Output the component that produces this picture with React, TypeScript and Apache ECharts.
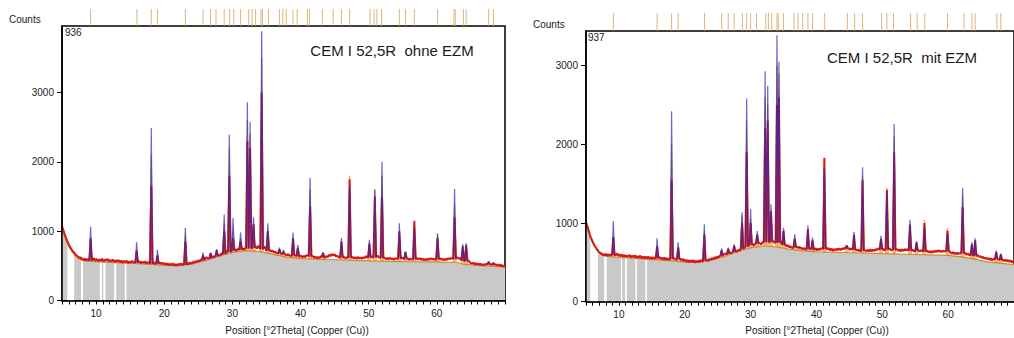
import React, { useEffect, useRef } from 'react';
import * as echarts from 'echarts';

type Pt = [number, number];
// [position °2θ, foot, observed top, calculated top, phase top]
type Peak = [number, number, number, number, number];

const xLabelValues = [10, 20, 30, 40, 50, 60];
const yLabelValues = [0, 1000, 2000, 3000];

// ---------- Sample 936 (ohne EZM) ----------
const bgL: Pt[] = [[5,1060],[5.3,960],[5.6,870],[6,780],[6.5,700],[7,640],[7.5,600],[8,580],[9,568],[10,560],[12,550],[14,540],[16,530],[18,520],[20,505],[22,500],[24,525],[26,575],[28,640],[30,695],[32,720],[34,705],[36,665],[38,625],[40,605],[42,595],[45,588],[48,578],[50,572],[55,562],[60,556],[63,548],[64,520],[66,505],[70,480]];
const obsL: Pt[] = [[5,1075],[5.15,1030],[5.3,985],[5.45,940],[5.6,900],[5.75,860],[5.9,830],[6.05,795],[6.2,770],[6.35,745],[6.5,725],[6.65,700],[6.8,690],[6.95,665],[7.1,655],[7.25,640],[7.4,625],[7.55,615],[7.7,625],[7.85,595],[8.0,610],[8.2,580],[8.4,605],[8.6,575],[8.8,600],[9.5,585],[9.7,610],[9.9,575],[10.1,600],[10.3,565],[10.5,595],[10.7,570],[10.9,605],[11.1,560],[11.3,590],[11.5,575],[11.7,600],[11.9,560],[12.1,585],[12.3,565],[12.5,590],[12.7,555],[12.9,580],[13.1,560],[13.3,585],[13.5,550],[13.7,575],[13.9,545],[14.1,570],[14.3,550],[14.5,575],[14.7,540],[14.9,565],[15.1,545],[15.3,570],[15.5,550],[16.4,565],[16.6,535],[16.8,560],[17.0,540],[17.2,565],[17.4,530],[17.6,555],[17.8,540],[18.4,560],[18.6,530],[18.8,550],[19.3,555],[19.5,525],[19.7,545],[19.9,520],[20.1,540],[20.3,510],[20.5,535],[20.7,505],[20.9,530],[21.1,510],[21.3,535],[21.5,500],[21.7,525],[21.9,505],[22.1,530],[22.3,510],[22.5,535],[22.7,515],[23.4,545],[23.6,520],[23.8,550],[24.0,530],[24.2,560],[24.4,540],[24.6,570],[24.8,555],[25.0,580],[25.2,565],[25.4,595],[26.0,600],[26.2,625],[26.4,605],[27.1,640],[27.3,625],[28.0,660],[28.2,645],[28.4,680],[29.1,690],[29.3,720],[30.4,740],[30.6,715],[30.8,745],[31.5,750],[31.7,730],[31.9,760],[33.4,780],[33.6,750],[33.8,790],[34.7,780],[34.9,740],[35.5,730],[35.7,705],[35.9,720],[36.1,690],[36.3,705],[36.5,680],[37.1,690],[37.8,665],[38.0,650],[38.2,670],[38.4,645],[39.2,650],[39.9,630],[40.1,650],[40.3,620],[40.5,645],[40.7,625],[40.9,655],[41.8,640],[42.0,610],[42.2,635],[42.4,605],[42.6,630],[42.8,610],[43.0,640],[43.6,615],[43.8,640],[44.0,625],[44.2,660],[44.4,640],[44.6,670],[44.8,650],[45.0,665],[45.2,635],[45.4,650],[45.6,620],[46.4,630],[46.6,605],[46.8,625],[47.6,630],[47.8,605],[48.0,625],[48.2,600],[48.4,630],[48.6,605],[48.8,620],[49.0,600],[49.2,625],[49.4,610],[49.6,640],[49.8,620],[50.4,640],[50.6,620],[51.3,650],[51.5,620],[52.3,620],[52.5,595],[52.7,615],[52.9,590],[53.1,620],[53.3,595],[53.5,610],[53.7,585],[53.9,610],[54.1,600],[54.9,620],[55.1,600],[55.7,610],[55.9,585],[56.1,605],[56.3,590],[57.1,615],[57.3,590],[57.5,610],[57.7,585],[57.9,605],[58.1,580],[58.3,600],[58.5,578],[58.7,605],[58.9,585],[59.1,610],[59.3,590],[59.5,605],[59.7,585],[60.5,610],[60.7,585],[60.9,600],[61.1,580],[61.3,605],[61.5,585],[61.7,610],[61.9,595],[62.1,615],[63.0,625],[63.2,600],[63.4,615],[64.7,570],[64.9,545],[65.1,530],[65.3,545],[65.5,520],[65.7,540],[65.9,515],[66.1,535],[66.3,510],[66.5,530],[66.7,505],[66.9,525],[67.1,510],[67.3,530],[67.9,525],[68.7,520],[68.9,500],[69.1,520],[69.3,495],[69.5,515],[69.7,490],[69.9,505],[70,495]];
const peaksL: Peak[] = [
  [9.2,575,900,1065,850],[15.95,545,720,840,700],[18.1,530,1650,2490,2100],[19.0,530,650,730,640],
  [23.1,515,850,1045,950],[25.7,580,650,690,620],[26.8,610,680,690,650],[27.7,640,720,740,700],
  [28.8,670,1000,1240,1100],[29.55,700,1800,2390,2200],[30.1,720,900,1190,1000],[31.2,735,850,980,900],
  [32.2,750,2300,2860,2600],[32.6,750,2200,2575,2400],[33.1,760,1100,1200,1000],[34.3,740,3000,3885,3500],
  [35.2,715,1000,1115,950],[36.9,680,740,764,720],[37.5,670,700,730,680],[38.9,645,900,980,850],
  [39.6,640,760,800,740],[41.4,640,1350,1766,1600],[43.3,625,690,690,650],[46.0,620,850,900,820],
  [47.2,620,1750,1650,1800],[50.1,620,820,875,800],[50.9,625,1500,1600,1600],[51.95,615,1500,2000,1800],
  [54.5,605,1000,1115,1000],[55.4,600,700,705,680],[56.7,595,1150,1050,1100],[60.1,595,900,971,950],
  [62.6,600,1200,1607,1400],[63.8,575,780,814,760],[64.3,570,800,830,780],[67.6,520,560,560,540],[68.3,515,545,540,520],
];
const refL = [9.2,16.0,18.1,19.0,23.1,25.7,26.8,27.6,28.8,29.6,30.2,31.2,32.4,32.9,33.4,34.2,34.4,35.3,36.9,37.4,37.9,38.9,39.5,41.0,41.3,43.2,44.8,46.0,47.2,50.2,50.8,51.2,51.9,54.5,55.4,56.7,60.1,62.5,62.7,63.9,64.3,67.6,68.3];
const gapsL: Pt[] = [[5.8,6.8],[7.78,8.08],[10.55,10.85],[11.05,11.38],[12.66,12.95],[14.22,14.46]];

// ---------- Sample 937 (mit EZM) ----------
const bgR: Pt[] = [[5,1010],[5.3,900],[5.6,820],[6,750],[6.5,680],[7,625],[7.5,595],[8,578],[10,562],[12,552],[14,542],[16,532],[18,518],[20,503],[22,500],[24,528],[26,575],[28,635],[30,685],[32,708],[34,695],[36,665],[38,645],[40,632],[45,622],[50,610],[55,600],[60,588],[62,570],[64,540],[66,505],[70,470]];
const obsR: Pt[] = [[5,1020],[5.15,975],[5.3,935],[5.45,890],[5.6,850],[5.75,815],[5.9,785],[6.05,755],[6.2,730],[6.35,705],[6.5,690],[6.65,665],[6.8,655],[6.95,630],[7.1,625],[7.25,605],[7.4,615],[7.55,590],[7.7,605],[7.85,585],[8.0,610],[8.2,580],[8.4,605],[8.6,585],[8.8,600],[9.45,590],[9.65,615],[9.85,580],[10.05,605],[10.25,575],[10.45,600],[10.65,570],[10.85,595],[11.05,565],[11.25,590],[11.45,570],[11.65,595],[11.85,560],[12.05,585],[12.25,565],[12.45,590],[12.65,555],[12.85,580],[13.05,560],[13.25,585],[13.45,550],[13.65,575],[13.85,548],[14.05,572],[14.25,550],[14.45,575],[14.65,545],[14.85,568],[15.05,545],[15.25,565],[15.45,550],[16.2,565],[16.4,540],[16.6,560],[16.8,535],[17.0,560],[17.2,530],[17.4,555],[17.6,535],[18.4,555],[18.6,530],[18.8,545],[19.3,550],[19.5,520],[19.7,545],[19.9,515],[20.1,535],[20.3,505],[20.5,530],[20.7,500],[20.9,525],[21.1,505],[21.3,530],[21.5,495],[21.7,520],[21.9,500],[22.1,525],[22.3,505],[22.5,530],[22.7,510],[23.3,535],[23.5,515],[23.7,545],[23.9,525],[24.1,555],[24.3,535],[24.5,565],[24.7,545],[24.9,575],[25.1,560],[25.3,585],[25.9,595],[26.1,615],[26.3,600],[26.9,630],[27.1,615],[27.8,650],[28.0,635],[28.2,665],[28.4,650],[29.1,690],[29.7,720],[30.3,735],[30.5,710],[30.7,740],[31.4,745],[31.6,725],[31.8,755],[33.4,775],[33.6,750],[34.6,770],[34.8,735],[35.3,725],[35.5,700],[35.7,720],[35.9,690],[36.1,705],[36.3,680],[37.0,700],[37.7,685],[37.9,665],[38.1,685],[38.3,660],[39.0,675],[39.7,660],[39.9,680],[40.1,650],[40.3,675],[40.5,655],[40.7,680],[41.5,690],[41.7,665],[41.9,680],[42.1,650],[42.3,675],[42.5,645],[42.7,670],[42.9,650],[43.1,675],[43.3,655],[43.5,680],[43.7,655],[43.9,680],[44.1,665],[44.3,690],[44.9,680],[45.1,660],[45.3,675],[46.0,665],[46.2,645],[46.4,665],[46.6,640],[47.4,655],[47.6,635],[47.8,660],[48.0,640],[48.2,665],[48.4,640],[48.6,660],[48.8,645],[49.0,670],[49.2,655],[49.4,680],[50.1,675],[50.3,650],[51.1,680],[51.3,655],[52.2,670],[52.4,645],[52.6,665],[52.8,640],[53.0,665],[53.2,645],[53.4,670],[53.6,650],[53.8,668],[54.6,660],[54.8,640],[55.5,655],[55.7,635],[55.9,655],[56.1,640],[56.8,650],[57.0,625],[57.2,645],[57.4,620],[57.6,645],[57.8,625],[58.0,650],[58.2,630],[58.4,655],[58.6,635],[58.8,650],[59.0,630],[59.2,650],[59.4,640],[60.3,635],[60.5,610],[60.7,630],[60.9,605],[61.1,625],[61.3,600],[61.5,625],[61.7,605],[61.9,620],[62.6,620],[62.8,595],[63.0,615],[63.2,590],[64.5,590],[64.7,570],[64.9,580],[65.1,555],[65.3,570],[65.5,545],[65.7,560],[65.9,540],[66.1,555],[66.3,530],[66.5,550],[66.7,525],[66.9,545],[67.6,545],[67.8,525],[68.3,535],[68.5,515],[68.7,535],[68.9,510],[69.1,530],[69.3,505],[69.5,525],[69.7,500],[69.9,515],[70,505]];
const peaksR: Peak[] = [
  [9.15,590,820,1025,800],[15.8,555,700,805,680],[18.0,545,1550,2420,2000],[19.0,540,690,754,680],
  [22.97,520,850,983,900],[25.6,585,650,678,630],[26.6,610,670,686,650],[27.5,635,710,728,700],
  [28.7,670,1000,1135,1100],[29.4,700,1900,2583,2300],[30.0,720,1000,1178,1050],[31.0,740,850,898,850],
  [32.2,755,2200,2930,2600],[32.6,755,2300,2744,2500],[33.1,760,1150,1237,1100],[34.0,755,2500,3387,3000],
  [34.3,750,2600,3049,2900],[35.0,720,900,940,880],[36.7,690,800,856,780],[37.4,685,690,700,680],
  [38.7,670,920,967,880],[39.4,665,780,815,760],[41.2,670,1829,1700,1780],[44.6,675,715,700,680],
  [45.7,660,850,885,820],[47.0,650,1550,1707,1600],[49.8,665,800,839,790],[50.7,665,1420,1400,1449],
  [51.8,660,1900,2257,2100],[54.2,650,980,1040,960],[55.2,645,750,771,740],[56.4,640,1000,950,1040],
  [59.9,640,900,870,940],[62.2,615,1200,1449,1350],[63.6,590,730,754,720],[64.1,585,780,805,760],
  [67.3,540,630,648,600],[68.0,530,600,610,580],
];
const refR = [9.15,15.8,18.0,19.0,23.0,25.6,26.6,27.5,28.75,29.4,30.0,30.9,32.3,32.7,33.2,34.0,34.2,35.0,36.6,37.2,37.9,38.7,39.4,41.25,44.7,45.8,47.0,49.9,50.7,51.7,54.3,55.3,56.45,59.9,62.4,63.6,64.1,67.4,68.0];
const gapsR: Pt[] = [[5.65,6.8],[7.75,8.15],[10.3,10.5],[10.95,11.22],[12.5,12.72],[14.02,14.26]];

const FONT = '"Liberation Sans", Arial, sans-serif';
const HW = 0.18;
const HW_PHASE = 0.3;

function mergeLine(base: Pt[], peaks: Peak[], k: number) {
  const pts: number[][] = base
    .filter(([x]) => !peaks.some((p) => Math.abs(p[0] - x) < HW + 0.04))
    .map((p) => [p[0], p[1]]);
  peaks.forEach((p) => {
    pts.push([p[0] - HW, p[1]], [p[0], p[k]], [p[0] + HW, p[1]]);
  });
  pts.sort((a, b) => a[0] - b[0]);
  return pts;
}

// isolated peak profiles (null-separated) for column k of the peak table
function peakSegments(peaks: Peak[], k: number, hw: number) {
  const out: (number | null)[][] = [];
  peaks.forEach((p) => {
    out.push([p[0] - hw, p[1]], [p[0], p[k]], [p[0] + hw, p[1]], [p[0] + hw, null]);
  });
  return out;
}

function panelSeries(g: number, bg: Pt[], obs: Pt[], peaks: Peak[], ref: number[], gaps: Pt[], stripH: number) {
  const main = g * 2;
  const strip = g * 2 + 1;
  return [
    {
      type: 'line', xAxisIndex: main, yAxisIndex: main, z: 1, symbol: 'none', silent: true,
      data: peakSegments(peaks, 4, HW_PHASE), connectNulls: false,
      lineStyle: { width: 1, color: '#eda24c' },
      areaStyle: { color: '#f7b46a', opacity: 1 },
    },
    {
      type: 'line', xAxisIndex: main, yAxisIndex: main, z: 2, symbol: 'none', silent: true,
      data: bg, lineStyle: { width: 0 }, areaStyle: { color: '#c9c9c9', opacity: 1 },
    },
    {
      type: 'custom', xAxisIndex: main, yAxisIndex: main, z: 3, silent: true,
      data: gaps,
      encode: { x: [0, 1] },
      renderItem: (params: any, api: any) => {
        const p0 = api.coord([api.value(0), 0]);
        const p1 = api.coord([api.value(1), 1250]);
        return {
          type: 'rect',
          shape: { x: p0[0], y: p1[1], width: p1[0] - p0[0], height: p0[1] - p1[1] },
          style: { fill: '#ffffff' },
        };
      },
    },
    {
      type: 'line', xAxisIndex: main, yAxisIndex: main, z: 4, symbol: 'none', silent: true,
      data: bg, lineStyle: { width: 1.2, color: '#c98a2a' },
    },
    {
      type: 'line', xAxisIndex: main, yAxisIndex: main, z: 5, symbol: 'none', silent: true,
      data: mergeLine(obs, peaks, 2), lineStyle: { width: 2, color: '#d81818' },
    },
    {
      type: 'line', xAxisIndex: main, yAxisIndex: main, z: 6, symbol: 'none', silent: true,
      data: peakSegments(peaks, 3, HW), connectNulls: false,
      lineStyle: { width: 1.2, color: '#2626b8', opacity: 0.7 },
    },
    {
      type: 'scatter', xAxisIndex: strip, yAxisIndex: strip, z: 6, silent: true,
      symbol: 'rect', symbolSize: [1, stripH],
      data: ref.map((v) => [v, 0.5]),
      itemStyle: { color: '#d6a55a' },
    },
  ];
}

function mainX(grid: number) {
  return {
    type: 'value', gridIndex: grid, min: 5, max: 70, interval: 1, z: 10,
    axisLine: { show: true, onZero: false, lineStyle: { color: '#000', width: 1.5 } },
    axisTick: { show: true, length: 4, lineStyle: { color: '#000', width: 1 } },
    axisLabel: {
      show: true, customValues: xLabelValues, margin: 8, fontSize: 10, color: '#222', fontFamily: FONT,
      formatter: (v: number) => (v % 10 === 0 && v > 5 && v < 70 ? String(v) : ''),
    },
    splitLine: { show: false },
  };
}
function mainY(grid: number, max: number) {
  return {
    type: 'value', gridIndex: grid, min: 0, max, interval: 1000, z: 10,
    axisLine: { show: true, onZero: false, lineStyle: { color: '#000', width: 1.5 } },
    axisTick: { show: true, length: 5, customValues: yLabelValues, lineStyle: { color: '#000', width: 1 } },
    axisLabel: {
      show: true, customValues: yLabelValues, margin: 8, fontSize: 10, color: '#222', fontFamily: FONT,
      formatter: (v: number) => (v % 1000 === 0 ? String(v) : ''),
    },
    splitLine: { show: false },
  };
}
function stripX(grid: number) {
  return { type: 'value', gridIndex: grid, min: 5, max: 70, show: false };
}
function stripY(grid: number) {
  return { type: 'value', gridIndex: grid, min: 0, max: 1, show: false };
}

function txt(text: string, x: number, y: number, size: number, align = 'left') {
  return {
    type: 'text', x, y, z: 20, silent: true,
    style: {
      text, fill: '#1a1a1a', fontSize: size, fontFamily: FONT,
      align, verticalAlign: 'middle', textAlign: align, textVerticalAlign: 'middle',
    },
  };
}

export default function App() {
  const ref = useRef<HTMLDivElement>(null);
  useEffect(() => {
    if (!ref.current) return;
    const chart = echarts.init(ref.current, undefined, { renderer: 'svg' });
    const option: any = {
      animation: false,
      backgroundColor: '#ffffff',
      grid: [
        { left: 62, top: 26, width: 443, height: 274.5, show: true, borderColor: '#000', borderWidth: 1.5, backgroundColor: 'transparent' },
        { left: 62, top: 9, width: 443, height: 17 },
        { left: 586, top: 31, width: 439, height: 270.7, show: true, borderColor: '#000', borderWidth: 1.5, backgroundColor: 'transparent' },
        { left: 586, top: 13, width: 439, height: 18 },
      ],
      xAxis: [mainX(0), stripX(1), mainX(2), stripX(3)],
      yAxis: [mainY(0, 3960), stripY(1), mainY(2, 3440), stripY(3)],
      series: [
        ...panelSeries(0, bgL, obsL, peaksL, refL, gapsL, 17),
        ...panelSeries(1, bgR, obsR, peaksR, refR, gapsR, 18),
      ],
      graphic: [
        txt('Counts', 9, 19, 10),
        txt('936', 65, 32, 10),
        txt('CEM I 52,5R  ohne EZM', 392, 50, 15, 'center'),
        txt('Position [°2Theta] (Copper (Cu))', 297, 330, 10, 'center'),
        txt('Counts', 533, 24, 10),
        txt('937', 588, 37, 10),
        txt('CEM I 52,5R  mit EZM', 902, 57, 15, 'center'),
        txt('Position [°2Theta] (Copper (Cu))', 817, 330, 10, 'center'),
      ],
    };
    chart.setOption(option);
    return () => chart.dispose();
  }, []);
  return (
    <div
      ref={ref}
      style={{ position: 'absolute', left: 0, top: 0, width: 1014, height: 338, overflow: 'hidden', background: '#fff' }}
    />
  );
}
